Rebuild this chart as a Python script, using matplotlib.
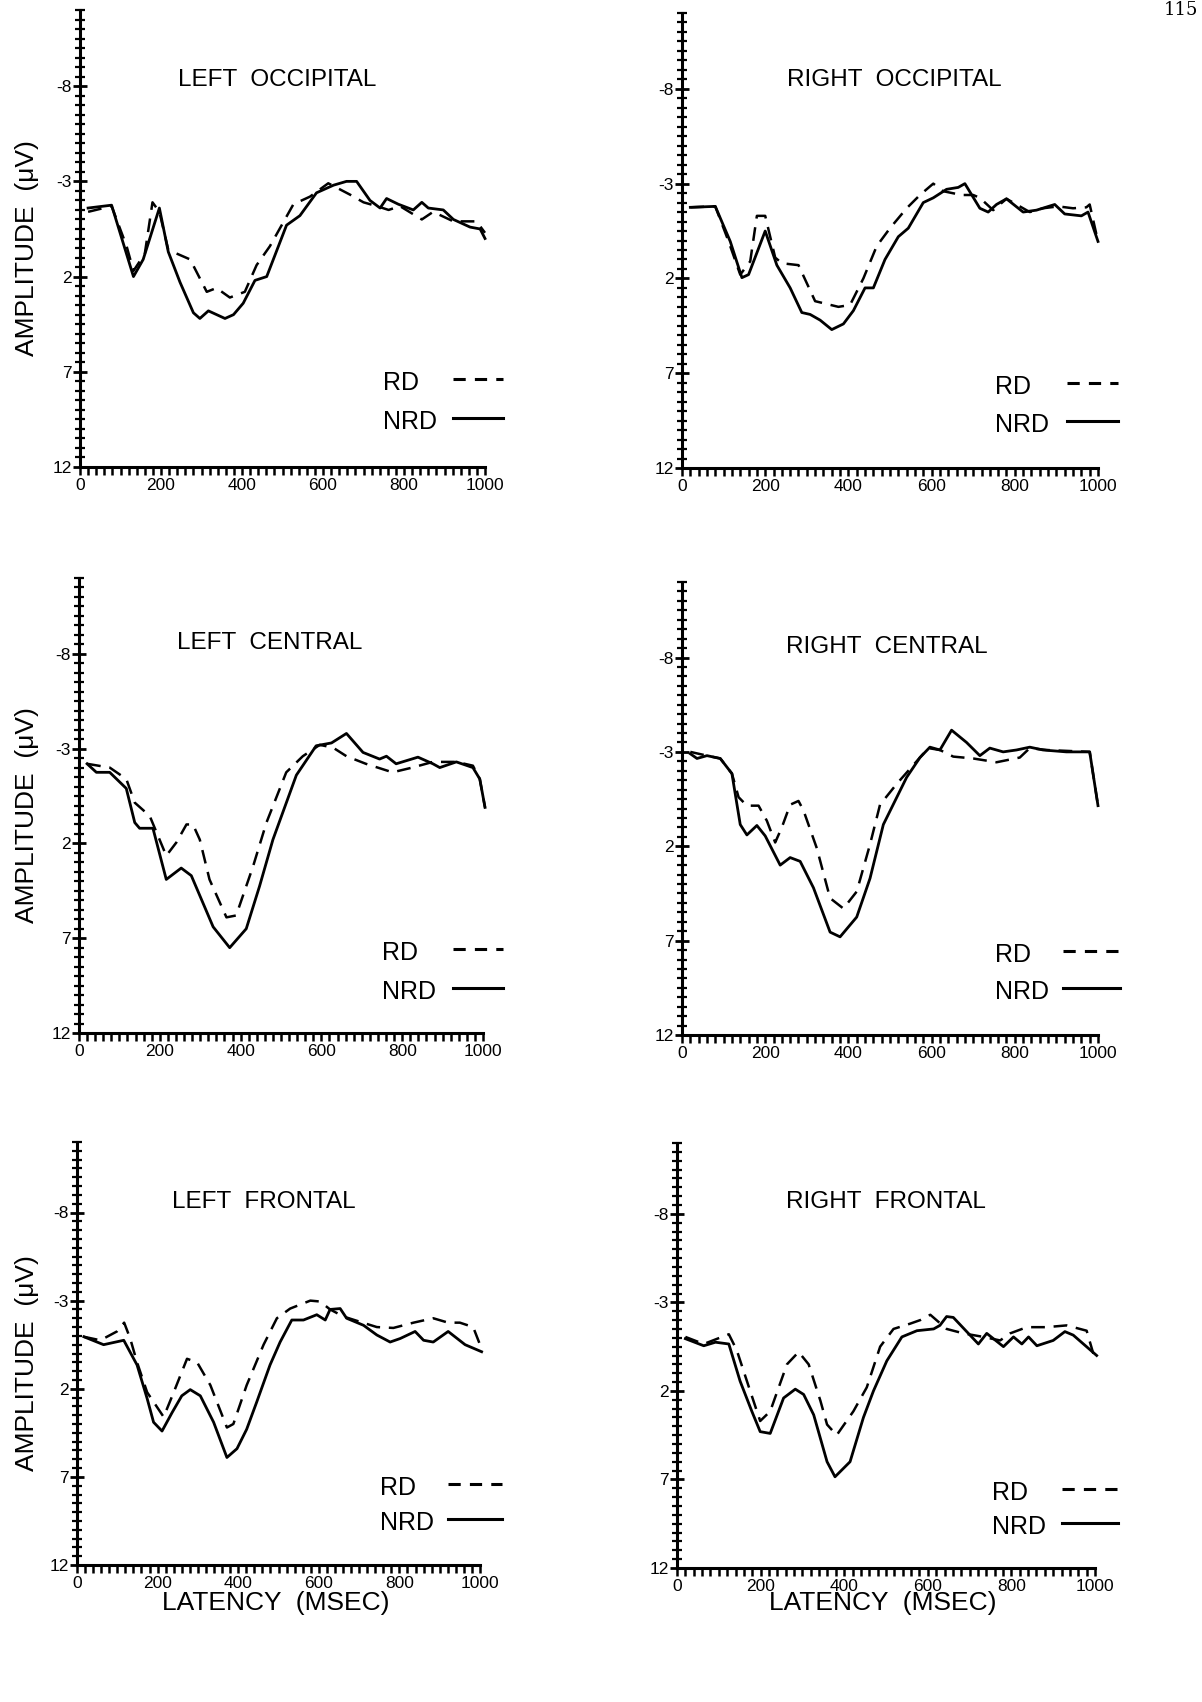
import matplotlib
matplotlib.use("Agg")
import matplotlib.pyplot as plt
from matplotlib.lines import Line2D
from matplotlib.ticker import MultipleLocator, FixedLocator
import numpy as np

# ---- data (latency in ms, amplitude in uV) ----
lo_nrd_ms = [20, 78, 132, 156, 196, 218, 247, 280, 296, 317, 358, 379, 403, 432, 461, 510, 543, 584, 626, 658, 683, 716, 741, 757, 786, 823, 844, 860, 897, 922, 963, 988, 1000]
lo_nrd_uv = [-1.6, -1.75, 2.0, 1.1, -1.6, 0.7, 2.3, 3.9, 4.2, 3.8, 4.2, 4.0, 3.4, 2.2, 2.0, -0.7, -1.2, -2.4, -2.8, -3.0, -3.0, -2.0, -1.6, -2.1, -1.8, -1.5, -1.9, -1.6, -1.5, -1.0, -0.6, -0.5, 0.0]
lo_rd_ms = [20, 78, 115, 132, 160, 179, 196, 218, 272, 313, 337, 370, 407, 436, 469, 527, 568, 613, 667, 700, 733, 762, 790, 844, 872, 922, 979, 1000]
lo_rd_uv = [-1.4, -1.7, 0.4, 1.7, 0.8, -1.9, -1.4, 0.6, 1.1, 2.8, 2.6, 3.1, 2.8, 1.4, 0.4, -1.8, -2.2, -2.9, -2.3, -1.9, -1.7, -1.5, -1.7, -1.0, -1.4, -0.9, -0.9, -0.3]

ro_nrd_ms = [20, 80, 116, 144, 160, 200, 228, 260, 288, 308, 332, 360, 388, 412, 440, 460, 488, 520, 544, 580, 604, 636, 664, 680, 716, 736, 756, 780, 820, 852, 896, 920, 960, 976, 1000]
ro_nrd_uv = [-1.75, -1.8, 0.05, 1.96, 1.8, -0.5, 1.3, 2.5, 3.8, 3.9, 4.2, 4.7, 4.4, 3.7, 2.5, 2.5, 1.0, -0.2, -0.65, -2.0, -2.25, -2.7, -2.8, -3.0, -1.7, -1.5, -1.9, -2.2, -1.5, -1.6, -1.9, -1.4, -1.3, -1.5, 0.05]
ro_rd_ms = [20, 80, 112, 140, 164, 180, 200, 224, 240, 280, 320, 376, 404, 436, 468, 500, 540, 572, 604, 628, 672, 700, 716, 748, 780, 836, 868, 904, 940, 972, 980, 1000]
ro_rd_uv = [-1.75, -1.8, 0.05, 1.8, 1.1, -1.3, -1.3, 0.9, 1.2, 1.3, 3.2, 3.5, 3.4, 2.0, 0.3, -0.65, -1.7, -2.4, -3.0, -2.6, -2.4, -2.4, -2.25, -1.6, -2.2, -1.5, -1.7, -1.8, -1.7, -1.75, -1.9, 0.05]

lc_nrd_ms = [20, 43, 76, 117, 138, 150, 183, 216, 253, 278, 332, 373, 414, 447, 480, 538, 587, 625, 662, 703, 744, 761, 785, 839, 876, 893, 934, 975, 992, 1005]
lc_nrd_uv = [-2.2, -1.75, -1.75, -0.9, 0.9, 1.2, 1.2, 3.9, 3.3, 3.7, 6.4, 7.5, 6.5, 4.25, 1.8, -1.6, -3.15, -3.3, -3.8, -2.8, -2.45, -2.6, -2.2, -2.55, -2.2, -2.0, -2.3, -2.0, -1.4, 0.1]
lc_rd_ms = [20, 76, 117, 138, 175, 216, 241, 266, 282, 299, 323, 365, 389, 431, 464, 513, 554, 596, 629, 662, 710, 776, 825, 876, 934, 975, 992, 1005]
lc_rd_uv = [-2.2, -2.0, -1.4, -0.15, 0.55, 2.65, 1.95, 1.0, 1.0, 1.8, 3.9, 5.9, 5.8, 3.2, 0.9, -1.75, -2.6, -3.2, -3.05, -2.6, -2.2, -1.75, -2.0, -2.3, -2.3, -2.1, -1.4, 0.1]

rc_nrd_ms = [20, 36, 60, 92, 120, 140, 156, 180, 200, 236, 260, 284, 316, 356, 380, 420, 452, 484, 540, 572, 596, 620, 648, 684, 716, 740, 772, 804, 836, 868, 924, 980, 1000]
rc_nrd_uv = [-2.9, -2.65, -2.8, -2.65, -1.85, 0.85, 1.4, 0.9, 1.45, 3.0, 2.6, 2.8, 4.2, 6.55, 6.8, 5.75, 3.7, 0.85, -1.65, -2.7, -3.25, -3.1, -4.15, -3.5, -2.8, -3.2, -3.0, -3.1, -3.25, -3.1, -3.0, -3.0, -0.15]
rc_rd_ms = [20, 60, 92, 120, 136, 156, 184, 204, 224, 240, 260, 280, 292, 324, 356, 388, 420, 452, 476, 516, 552, 592, 620, 652, 700, 756, 812, 836, 876, 980, 1000]
rc_rd_uv = [-3.0, -2.8, -2.65, -1.85, -0.6, -0.15, -0.15, 0.65, 1.8, 1.0, -0.2, -0.4, 0.1, 2.1, 4.75, 5.3, 4.4, 1.9, -0.2, -1.3, -2.2, -3.2, -3.1, -2.75, -2.65, -2.45, -2.7, -3.2, -3.1, -3.0, -0.15]

lf_nrd_ms = [17, 66, 116, 149, 174, 190, 211, 236, 260, 281, 306, 339, 372, 397, 421, 446, 479, 504, 533, 562, 595, 616, 628, 653, 669, 711, 744, 777, 802, 839, 860, 884, 921, 963, 1004]
lf_nrd_uv = [-0.95, -0.5, -0.75, 0.65, 2.55, 3.9, 4.4, 3.35, 2.4, 2.05, 2.4, 3.9, 5.9, 5.4, 4.3, 2.75, 0.65, -0.65, -1.9, -1.9, -2.2, -1.9, -2.5, -2.55, -2.0, -1.6, -1.05, -0.65, -0.85, -1.25, -0.75, -0.65, -1.25, -0.5, -0.1]
lf_rd_ms = [17, 58, 99, 117, 132, 149, 174, 215, 240, 273, 298, 331, 372, 388, 421, 463, 496, 529, 579, 603, 628, 661, 702, 744, 785, 835, 884, 921, 950, 983, 1000]
lf_rd_uv = [-0.95, -0.75, -1.25, -1.75, -0.85, 0.5, 2.2, 3.6, 2.2, 0.3, 0.5, 1.8, 4.2, 4.0, 1.8, -0.5, -2.0, -2.55, -3.0, -2.95, -2.5, -2.1, -1.8, -1.5, -1.45, -1.75, -2.0, -1.75, -1.75, -1.5, -0.5]

rf_nrd_ms = [20, 64, 92, 124, 151, 179, 199, 223, 255, 283, 303, 327, 359, 378, 414, 446, 470, 502, 538, 574, 614, 629, 645, 661, 693, 721, 741, 781, 805, 825, 841, 861, 900, 928, 948, 1004]
rf_nrd_uv = [-0.95, -0.55, -0.75, -0.65, 1.45, 3.15, 4.3, 4.4, 2.4, 1.9, 2.2, 3.35, 6.0, 6.85, 6.0, 3.5, 2.0, 0.3, -1.05, -1.4, -1.5, -1.7, -2.2, -2.15, -1.35, -0.65, -1.25, -0.5, -1.05, -0.65, -1.05, -0.55, -0.85, -1.35, -1.15, 0.0]
rf_rd_ms = [20, 64, 124, 143, 175, 199, 223, 263, 291, 315, 343, 359, 382, 422, 454, 486, 518, 558, 582, 606, 645, 685, 733, 773, 797, 837, 884, 932, 948, 980, 996]
rf_rd_uv = [-1.05, -0.65, -1.2, -0.3, 2.0, 3.7, 3.15, 0.5, -0.2, 0.5, 2.55, 3.9, 4.5, 3.15, 1.8, -0.5, -1.5, -1.8, -2.0, -2.3, -1.5, -1.25, -1.05, -0.85, -1.25, -1.6, -1.6, -1.7, -1.6, -1.4, -0.1]

panel_titles = ["LEFT  OCCIPITAL", "RIGHT  OCCIPITAL", "LEFT  CENTRAL",
                "RIGHT  CENTRAL", "LEFT  FRONTAL", "RIGHT  FRONTAL"]
ytick_vals = [-8, -3, 2, 7, 12]
xtick_vals = [0, 200, 400, 600, 800, 1000]

W, H = 1202, 1702
plt.rcParams['font.family'] = ['Liberation Sans', 'DejaVu Sans']

fig = plt.figure(figsize=(W / 100, H / 100), dpi=100)

# axes boxes in pixels: x0, x1, ytop, ybottom
boxes = [(80, 485, 10, 467), (682, 1098, 13, 468),
         (79, 483, 578, 1033), (682, 1098, 582, 1035),
         (77, 480, 1142, 1565), (677, 1095, 1143, 1568)]
title_pos = [(277, 80), (894, 80), (270, 643), (887, 647), (264, 1202), (886, 1202)]
# legend: text left x, RD y, NRD y, line x0, line x1
legend_pos = [(383, 383, 422, 453, 503), (995, 387, 425, 1067, 1118),
              (382, 953, 992, 453, 503), (995, 955, 992, 1063, 1120),
              (380, 1488, 1523, 448, 502), (992, 1493, 1527, 1062, 1118)]

series = [(lo_rd_ms, lo_rd_uv, lo_nrd_ms, lo_nrd_uv),
          (ro_rd_ms, ro_rd_uv, ro_nrd_ms, ro_nrd_uv),
          (lc_rd_ms, lc_rd_uv, lc_nrd_ms, lc_nrd_uv),
          (rc_rd_ms, rc_rd_uv, rc_nrd_ms, rc_nrd_uv),
          (lf_rd_ms, lf_rd_uv, lf_nrd_ms, lf_nrd_uv),
          (rf_rd_ms, rf_rd_uv, rf_nrd_ms, rf_nrd_uv)]

def fx(px):
    return px / W

def fy(py):
    return 1 - py / H

for i, (box, s) in enumerate(zip(boxes, series)):
    x0, x1, yt, yb = box
    ax = fig.add_axes([fx(x0), fy(yb), (x1 - x0) / W, (yb - yt) / H])
    rd_x, rd_y, nrd_x, nrd_y = s
    ax.plot(rd_x, rd_y, color='black', lw=1.8, dashes=(5.5, 3.5), clip_on=False)
    ax.plot(nrd_x, nrd_y, color='black', lw=2.0, clip_on=False)

    ax.set_xlim(0, 1000)
    ax.set_ylim(12, -12)
    for side in ['top', 'right']:
        ax.spines[side].set_visible(False)
    ax.spines['left'].set_linewidth(2.2)
    ax.spines['bottom'].set_linewidth(2.2)

    ax.xaxis.set_major_locator(FixedLocator(xtick_vals))
    ax.xaxis.set_minor_locator(MultipleLocator(20))
    ax.yaxis.set_major_locator(FixedLocator(ytick_vals))
    ax.yaxis.set_minor_locator(MultipleLocator(0.5))
    ax.set_xticklabels([str(v) for v in xtick_vals])
    ax.set_yticklabels([str(v) for v in ytick_vals])
    ax.tick_params(axis='x', which='both', direction='out', length=6, width=1.8,
                   labelsize=12.5, pad=2)
    ax.tick_params(axis='y', which='minor', direction='inout', length=7, width=1.6)
    ax.tick_params(axis='y', which='major', direction='inout', length=10, width=2,
                   labelsize=12.5, pad=1)

    tx, ty = title_pos[i]
    fig.text(fx(tx), fy(ty), panel_titles[i], ha='center', va='center',
             fontsize=17.5)

    lx, ry, ny, l0, l1 = legend_pos[i]
    fig.text(fx(lx), fy(ry), "RD", ha='left', va='center', fontsize=18)
    fig.text(fx(lx), fy(ny), "NRD", ha='left', va='center', fontsize=18)
    fig.add_artist(Line2D([fx(l0), fx(l1)], [fy(ry - 4), fy(ry - 4)], color='black',
                          lw=2.2, dashes=(4, 3)))
    fig.add_artist(Line2D([fx(l0), fx(l1)], [fy(ny - 4), fy(ny - 4)], color='black',
                          lw=2.2))

    if i % 2 == 0:
        fig.text(fx(27), fy((yt + yb) / 2 + 10), "AMPLITUDE  (\u03bcV)", rotation=90,
                 ha='center', va='center', fontsize=19)
    if i >= 4:
        fig.text(fx((x0 + x1) / 2 - 3), fy(1603), "LATENCY  (MSEC)", ha='center',
                 va='center', fontsize=19)

# page number in the top right corner of the scanned page
fig.text(fx(1198), fy(1), "115", ha='right', va='top', fontsize=13,
         family='DejaVu Serif')

fig.savefig("out.png", dpi=100, facecolor='white')
